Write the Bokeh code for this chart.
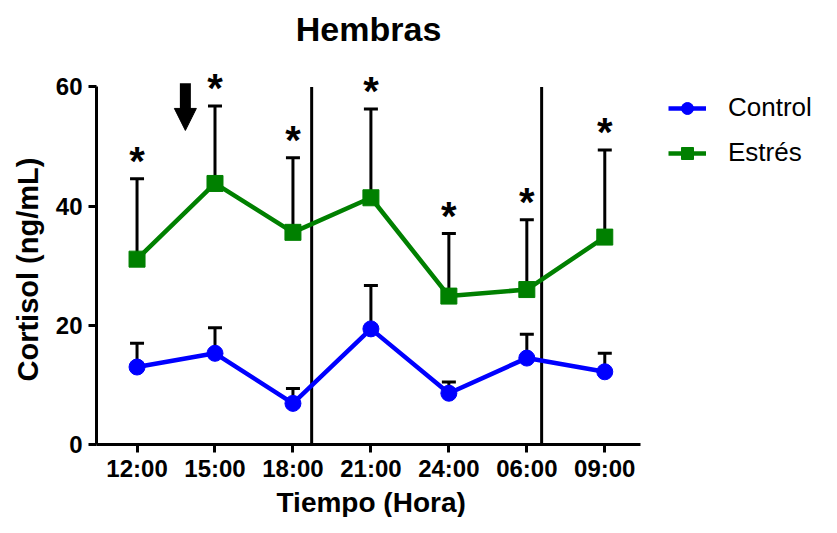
from bokeh.plotting import figure
from bokeh.models import (ColumnDataSource, Whisker, TeeHead, Arrow, NormalHead,
                          Legend, LegendItem, Range1d, Title)
from bokeh.core.properties import value
from bokeh.embed import file_html
from bokeh.resources import INLINE

# ---- data ----
times = ["12:00", "15:00", "18:00", "21:00", "24:00", "06:00", "09:00"]
control_mean = [13.0, 15.3, 6.9, 19.4, 8.6, 14.5, 12.2]
control_err = [4.0, 4.3, 2.5, 7.3, 1.9, 4.0, 3.1]
stress_mean = [31.1, 43.8, 35.6, 41.4, 24.9, 26.0, 34.8]
stress_err = [13.5, 13.0, 12.5, 14.9, 10.5, 11.7, 14.6]
significant = ["*", "*", "*", "*", "*", "*", "*"]
dividers = [2.24, 5.19]          # light/dark phase separators (x position between times)
arrow_x = 0.62                   # stress onset marker
y_ticks = [0, 20, 40, 60]
title_text = "Hembras"

FONT = "Liberation Sans"
x = list(range(len(times)))

c_src = ColumnDataSource(dict(x=x, m=control_mean,
                              up=[m + e for m, e in zip(control_mean, control_err)]))
s_src = ColumnDataSource(dict(x=x, m=stress_mean,
                              up=[m + e for m, e in zip(stress_mean, stress_err)]))
star_src = ColumnDataSource(dict(x=x, y=[m + e + 3.0 for m, e in zip(stress_mean, stress_err)],
                                 t=significant))

X0, X1 = -0.52, 6.46
p = figure(width=821, height=517, x_range=Range1d(X0, 8.78), y_range=Range1d(0, 74.5),
           output_backend="svg", toolbar_location=None, title=None,
           min_border_left=96, min_border_right=0, min_border_top=0, min_border_bottom=71)

p.outline_line_color = None
p.grid.visible = False
p.background_fill_color = "white"
p.border_fill_color = "white"

for ax in (p.xaxis[0], p.yaxis[0]):
    ax.axis_line_width = 3
    ax.major_tick_line_width = 3
    ax.major_tick_out = 8
    ax.major_tick_in = 0
    ax.minor_tick_line_color = None
    ax.major_label_text_font = FONT
    ax.major_label_text_font_style = "bold"
    ax.major_label_text_font_size = "24px"
    ax.major_label_text_color = "black"

p.xaxis.ticker = x
p.xaxis.bounds = (X0, X1)
p.xaxis.major_label_overrides = {i: t for i, t in enumerate(times)}
p.xaxis.major_label_standoff = 2

p.yaxis.ticker = y_ticks
p.yaxis.bounds = (0, 60)
p.yaxis.major_label_standoff = 6

p.add_layout(Title(text="Tiempo (Hora)", align="left", offset=180, standoff=0,
                   text_font=FONT, text_font_size="28px", text_font_style="bold",
                   text_color="black"), "below")
p.add_layout(Title(text="Cortisol (ng/mL)", align="left", offset=63, standoff=17,
                   text_font=FONT, text_font_size="29px", text_font_style="bold",
                   text_color="black"), "left")

# chart title, centred over the plotted time span
p.text(x=[(X0 + X1) / 2], y=[69.75], text=[title_text], text_font=value(FONT),
       text_font_size="34px", text_font_style="bold", text_align="center",
       text_baseline="alphabetic", text_color="black")

# dividers
p.segment(x0=dividers, y0=[0, 0], x1=dividers, y1=[60, 60], line_color="black", line_width=3)

# error bars (upper only)
for src in (c_src, s_src):
    w = Whisker(source=src, base="x", lower="m", upper="up", dimension="height",
                line_color="black", line_width=3,
                upper_head=TeeHead(size=14, line_width=3, line_color="black"),
                lower_head=None)
    p.add_layout(w)

c_line = p.line("x", "m", source=c_src, line_color="#0000ff", line_width=4.5)
c_mark = p.scatter("x", "m", source=c_src, marker="circle", size=16,
                   fill_color="#0000ff", line_color="#0000ff")
s_line = p.line("x", "m", source=s_src, line_color="#008000", line_width=4.5)
s_mark = p.scatter("x", "m", source=s_src, marker="square", size=16,
                   fill_color="#008000", line_color="#008000")

p.text("x", "y", text="t", source=star_src, text_font=value(FONT), text_font_size="40px",
       text_font_style="bold", text_align="center", text_baseline="alphabetic",
       text_color="black")

# stress-onset arrow: shaft + head
p.segment(x0=[arrow_x], y0=[60.6], x1=[arrow_x], y1=[55.0], line_color="black", line_width=11)
p.add_layout(Arrow(x_start=arrow_x, y_start=55.5, x_end=arrow_x, y_end=52.7,
                   line_alpha=0, line_width=1,
                   end=NormalHead(size=22, fill_color="black", line_color="black", line_width=1)))

legend = Legend(items=[LegendItem(label="Control", renderers=[c_line, c_mark]),
                       LegendItem(label="Estrés", renderers=[s_line, s_mark])],
                location=(572, 276), border_line_color=None, background_fill_alpha=0,
                label_text_font=FONT, label_text_font_size="26px", label_text_color="black",
                glyph_width=38, glyph_height=30, label_height=30, label_standoff=22,
                spacing=14, margin=0, padding=0)
p.add_layout(legend)

open("out.html", "w").write(file_html(p, INLINE))
